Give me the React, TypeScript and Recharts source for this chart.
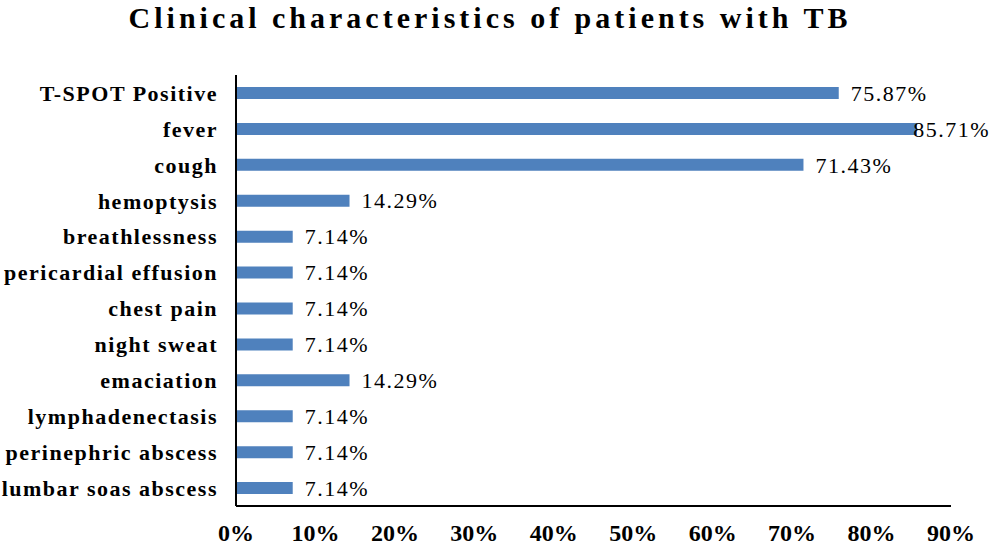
import { BarChart, Bar, XAxis, YAxis, LabelList } from "recharts";

const symptoms = [
  "T-SPOT Positive",
  "fever",
  "cough",
  "hemoptysis",
  "breathlessness",
  "pericardial effusion",
  "chest pain",
  "night sweat",
  "emaciation",
  "lymphadenectasis",
  "perinephric abscess",
  "lumbar soas abscess",
];

const percents = [75.87, 85.71, 71.43, 14.29, 7.14, 7.14, 7.14, 7.14, 14.29, 7.14, 7.14, 7.14];

const xTicks = [0, 10, 20, 30, 40, 50, 60, 70, 80, 90];

const data = symptoms.map((name, i) => ({ name, value: percents[i] }));

const serif = "'Liberation Serif', 'Times New Roman', serif";

const CHART_W = 992;
const LABEL_W = 78;

// value label to the right of the bar, pulled back inside the picture when it would run off
const ValueLabel = (props: any) => {
  const { x, y, width, height, value } = props;
  const end = x + width + 12;
  const overflow = end + LABEL_W > CHART_W - 2;
  return (
    <text
      x={overflow ? CHART_W - 2 : end}
      y={y + height / 2}
      dy="0.35em"
      textAnchor={overflow ? "end" : "start"}
      fill="#000"
      fontFamily={serif}
      fontSize={22}
      letterSpacing={1.5}
    >
      {`${Number(value).toFixed(2)}%`}
    </text>
  );
};

export default function App() {
  return (
    <div style={{ position: "relative", width: 992, height: 546, background: "#fff" }}>
      <style>{"body{margin:0}"}</style>
      <div
        style={{
          position: "absolute",
          top: 0,
          left: 0,
          width: 980,
          textAlign: "center",
          fontFamily: serif,
          fontWeight: "bold",
          fontSize: 30,
          letterSpacing: 4,
          lineHeight: "36px",
          color: "#000",
        }}
      >
        Clinical characteristics of patients with TB
      </div>
      <BarChart
        width={CHART_W}
        height={546}
        data={data}
        layout="vertical"
        margin={{ top: 75, right: 41, left: 0, bottom: 6 }}
      >
        <XAxis
          type="number"
          domain={[0, 90]}
          ticks={xTicks}
          tickFormatter={(v) => `${v}%`}
          axisLine={{ stroke: "#000", strokeWidth: 2 }}
          tickLine={false}
          height={34}
          tick={{ fill: "#000", fontFamily: serif, fontWeight: "bold", fontSize: 24 }}
          tickMargin={12}
        />
        <YAxis
          type="category"
          dataKey="name"
          width={236}
          axisLine={{ stroke: "#000", strokeWidth: 2 }}
          tickLine={false}
          tickMargin={12}
          interval={0}
          tick={{ fill: "#000", fontFamily: serif, fontWeight: "bold", fontSize: 22, letterSpacing: 1.5 }}
        />
        <Bar dataKey="value" fill="#4F81BD" barSize={12} isAnimationActive={false}>
          <LabelList dataKey="value" content={ValueLabel} />
        </Bar>
      </BarChart>
    </div>
  );
}
